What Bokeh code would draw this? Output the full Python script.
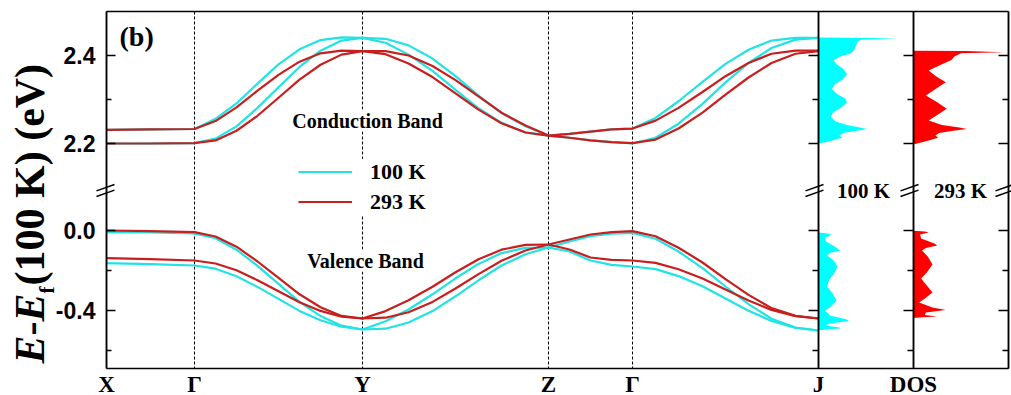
import numpy as np
from bokeh.plotting import figure
from bokeh.models import (Range1d, LinearAxis, FixedTicker, PrintfTickFormatter,
                          Label, Legend, LegendItem, Grid)
from bokeh.embed import file_html
from bokeh.resources import INLINE

# ---------------- data ----------------
# high-symmetry points along the k-path (path length normalised to 1)
k_sym = [0.0, 0.1236, 0.3596, 0.6208, 0.7388, 1.0]
k_labels = ["X", "\u0393", "Y", "Z", "\u0393", "J"]

k = [0.0, 0.0618, 0.1236, 0.1531, 0.1826, 0.2121, 0.2416, 0.2711, 0.3006, 0.3301,
     0.3596, 0.3919, 0.4242, 0.4579, 0.4902, 0.5225, 0.5548, 0.5885, 0.6208, 0.6503,
     0.6798, 0.7093, 0.7388, 0.7711, 0.8034, 0.8371, 0.8694, 0.9017, 0.9340, 0.9677, 1.0]

# conduction bands (eV)
cb_100k_a = [2.231, 2.232, 2.233, 2.256, 2.291, 2.336, 2.380, 2.414, 2.435, 2.441,
             2.440, 2.429, 2.402, 2.365, 2.322, 2.280, 2.247, 2.225, 2.218, 2.213,
             2.207, 2.203, 2.200, 2.213, 2.245, 2.290, 2.339, 2.383, 2.417, 2.436, 2.440]
cb_100k_b = [2.200, 2.200, 2.201, 2.211, 2.239, 2.281, 2.328, 2.374, 2.411, 2.434,
             2.440, 2.438, 2.423, 2.393, 2.353, 2.309, 2.269, 2.239, 2.218, 2.222,
             2.227, 2.232, 2.234, 2.258, 2.296, 2.340, 2.381, 2.413, 2.434, 2.440, 2.440]
cb_293k_a = [2.231, 2.232, 2.233, 2.251, 2.282, 2.320, 2.356, 2.386, 2.405, 2.411,
             2.410, 2.403, 2.382, 2.351, 2.314, 2.277, 2.246, 2.225, 2.218, 2.213,
             2.207, 2.203, 2.201, 2.209, 2.234, 2.270, 2.311, 2.350, 2.383, 2.404, 2.410]
cb_293k_b = [2.200, 2.200, 2.201, 2.207, 2.229, 2.263, 2.304, 2.345, 2.379, 2.402,
             2.410, 2.410, 2.400, 2.376, 2.344, 2.307, 2.270, 2.241, 2.218, 2.222,
             2.227, 2.232, 2.234, 2.252, 2.281, 2.317, 2.353, 2.383, 2.404, 2.411, 2.411]

# valence bands (eV)
vb_100k_a = [-0.008, -0.010, -0.015, -0.039, -0.096, -0.177, -0.267, -0.357, -0.428, -0.476,
             -0.495, -0.454, -0.395, -0.319, -0.239, -0.167, -0.113, -0.087, -0.085, -0.105,
             -0.150, -0.172, -0.180, -0.193, -0.228, -0.279, -0.340, -0.401, -0.452, -0.487, -0.500]
vb_100k_b = [-0.163, -0.168, -0.175, -0.191, -0.229, -0.282, -0.342, -0.402, -0.449, -0.481,
             -0.495, -0.491, -0.460, -0.403, -0.329, -0.249, -0.175, -0.119, -0.085, -0.055,
             -0.028, -0.016, -0.012, -0.041, -0.105, -0.188, -0.280, -0.368, -0.441, -0.485, -0.500]
vb_293k_a = [0.000, -0.003, -0.008, -0.030, -0.081, -0.155, -0.237, -0.319, -0.384, -0.427,
             -0.440, -0.403, -0.349, -0.281, -0.209, -0.144, -0.096, -0.072, -0.070, -0.095,
             -0.135, -0.147, -0.150, -0.162, -0.194, -0.240, -0.295, -0.350, -0.397, -0.428, -0.440]
vb_293k_b = [-0.138, -0.143, -0.150, -0.165, -0.199, -0.249, -0.304, -0.359, -0.402, -0.431,
             -0.440, -0.436, -0.409, -0.357, -0.290, -0.218, -0.151, -0.100, -0.070, -0.045,
             -0.020, -0.008, -0.003, -0.029, -0.086, -0.160, -0.243, -0.322, -0.388, -0.427, -0.440]

# densities of states (arb. units), energies in eV
dos_cb_e_100 = [2.441, 2.440, 2.438, 2.436, 2.432, 2.420, 2.410, 2.404, 2.397, 2.389,
                2.380, 2.370, 2.358, 2.345, 2.334, 2.324, 2.312, 2.302, 2.294, 2.282,
                2.270, 2.260, 2.250, 2.242, 2.236, 2.233, 2.229, 2.224, 2.218, 2.213,
                2.209, 2.204, 2.200]
dos_cb_100 = [0.0, 0.55, 0.83, 0.45, 0.41, 0.39, 0.37, 0.33, 0.22, 0.16,
              0.19, 0.26, 0.30, 0.25, 0.17, 0.14, 0.20, 0.28, 0.30, 0.24,
              0.15, 0.13, 0.18, 0.30, 0.45, 0.51, 0.40, 0.26, 0.22, 0.25,
              0.18, 0.10, 0.0]
dos_cb_e_293 = [2.411, 2.410, 2.4075, 2.405, 2.398, 2.390, 2.380, 2.366, 2.352, 2.339,
                2.325, 2.309, 2.294, 2.279, 2.265, 2.252, 2.242, 2.236, 2.233, 2.229,
                2.224, 2.218, 2.213, 2.208, 2.202, 2.198]
dos_cb_293 = [0.0, 0.55, 0.95, 0.50, 0.43, 0.40, 0.30, 0.16, 0.24, 0.34,
              0.24, 0.13, 0.25, 0.35, 0.25, 0.16, 0.30, 0.50, 0.56, 0.42,
              0.27, 0.23, 0.26, 0.18, 0.08, 0.0]
dos_vb_e_100 = [-0.010, -0.015, -0.022, -0.035, -0.055, -0.080, -0.100, -0.113, -0.125, -0.150,
                -0.180, -0.210, -0.250, -0.280, -0.315, -0.350, -0.380, -0.400, -0.425, -0.445,
                -0.452, -0.465, -0.475, -0.485, -0.490, -0.495, -0.500]
dos_vb_100 = [0.0, 0.10, 0.14, 0.07, 0.08, 0.17, 0.23, 0.12, 0.09, 0.16,
              0.20, 0.17, 0.11, 0.09, 0.15, 0.19, 0.13, 0.07, 0.12, 0.30,
              0.32, 0.12, 0.07, 0.22, 0.23, 0.08, 0.0]
dos_vb_e_293 = [-0.001, -0.005, -0.010, -0.020, -0.040, -0.065, -0.075, -0.088, -0.100, -0.130,
                -0.170, -0.210, -0.240, -0.275, -0.310, -0.340, -0.360, -0.385, -0.397, -0.410,
                -0.422, -0.430, -0.434, -0.437]
dos_vb_293 = [0.0, 0.12, 0.16, 0.07, 0.08, 0.22, 0.25, 0.13, 0.09, 0.15,
              0.20, 0.14, 0.08, 0.14, 0.20, 0.12, 0.06, 0.20, 0.34, 0.13,
              0.12, 0.25, 0.10, 0.0]

upper_ticks, upper_minor = [2.2, 2.4], [2.3]
lower_ticks, lower_minor = [0.0, -0.4], [-0.2, -0.6]

# ---------------- layout (pixels) ----------------
W, H = 1011, 395
FL, FR, FT, FB = 106, 1008, 11, 368      # panel box edges
XJ, XM = 818, 913                        # J line, divider between DOS panels
KPX = XJ - FL                            # px per unit of k-path
DW = XM - XJ                             # px per DOS unit
E_TOP, PPE_UP = 2.5, 440.0               # upper part: energy at top edge, px per eV
E_BOT, PPE_LOW = -0.69, 200.0            # lower part: energy at bottom edge, px per eV
BREAK_Y = 190                            # axis-break marks
BREAK_X = [105, 814, 909, 1004]

CYAN_LINE = "#22E3E3"
RED_LINE = "#C81E1E"
CYAN_FILL = "#00FFFF"
RED_FILL = "#FF0000"
SERIF = "Liberation Serif"
SANS = "Liberation Sans"


def px_x(px):
    return (px - FL) / KPX


def px_y(py):
    return E_TOP - (py - FT) / PPE_UP


up_bottom = px_y(FB)
low_top = E_BOT + (FB - FT) / PPE_LOW
k_right = px_x(FR)

# the frame is the whole canvas; every part is placed through the ranges
p = figure(width=W, height=H, output_backend="svg", toolbar_location=None,
           x_range=Range1d(px_x(0), px_x(W)), y_range=Range1d(px_y(H), px_y(0)),
           x_axis_location=None, y_axis_location=None,
           min_border_left=0, min_border_right=0, min_border_top=0, min_border_bottom=0)
p.extra_y_ranges = {"low": Range1d(E_BOT - (H - FB) / PPE_LOW, E_BOT + FB / PPE_LOW)}
p.extra_x_ranges = {"d100": Range1d(-XJ / DW, (W - XJ) / DW),
                    "d293": Range1d(-XM / DW, (W - XM) / DW)}
p.outline_line_color = None
p.background_fill_color = "white"
p.border_fill_color = "white"
for r in list(p.center):
    if isinstance(r, Grid):
        r.visible = False

# dotted high-symmetry lines
inner = k_sym[1:-1]
p.segment(x0=inner, y0=[E_TOP] * len(inner), x1=inner, y1=[up_bottom] * len(inner),
          line_color="black", line_width=1, line_dash="3 2")

# bands
lw = 2.2
r_cyan = p.line(k, cb_100k_a, line_color=CYAN_LINE, line_width=lw)
p.line(k, cb_100k_b, line_color=CYAN_LINE, line_width=lw)
p.line(k, vb_100k_a, line_color=CYAN_LINE, line_width=lw, y_range_name="low")
p.line(k, vb_100k_b, line_color=CYAN_LINE, line_width=lw, y_range_name="low")
r_red = p.line(k, cb_293k_a, line_color=RED_LINE, line_width=lw)
p.line(k, cb_293k_b, line_color=RED_LINE, line_width=lw)
p.line(k, vb_293k_a, line_color=RED_LINE, line_width=lw, y_range_name="low")
p.line(k, vb_293k_b, line_color=RED_LINE, line_width=lw, y_range_name="low")

# DOS
p.harea(x1=0, x2=dos_cb_100, y=dos_cb_e_100, x_range_name="d100", fill_color=CYAN_FILL)
p.harea(x1=0, x2=dos_vb_100, y=dos_vb_e_100, x_range_name="d100", y_range_name="low",
        fill_color=CYAN_FILL)
p.harea(x1=0, x2=dos_cb_293, y=dos_cb_e_293, x_range_name="d293", fill_color=RED_FILL)
p.harea(x1=0, x2=dos_vb_293, y=dos_vb_e_293, x_range_name="d293", y_range_name="low",
        fill_color=RED_FILL)


# vertical axes (all at fixed locations)
def add_vaxis(xname, xloc, yname, ticks, minor, main):
    bounds = (up_bottom, E_TOP) if yname == "default" else (E_BOT, low_top)
    ax = LinearAxis(x_range_name=xname, y_range_name=yname, fixed_location=xloc,
                    bounds=bounds,
                    ticker=FixedTicker(ticks=ticks, minor_ticks=minor),
                    formatter=PrintfTickFormatter(format="%.1f"),
                    axis_line_color="black", axis_line_width=1.5,
                    major_tick_line_color="black", major_tick_line_width=1.5,
                    minor_tick_line_color="black", minor_tick_line_width=1.5)
    if main:
        ax.major_tick_in, ax.major_tick_out = 9, 0
        ax.minor_tick_in, ax.minor_tick_out = 5, 0
        ax.major_label_standoff = 11
        ax.major_label_text_font = SANS
        ax.major_label_text_font_style = "bold"
        ax.major_label_text_font_size = "23px"
        ax.major_label_text_color = "black"
    else:
        ax.major_tick_in, ax.major_tick_out = 0, 10
        ax.minor_tick_in, ax.minor_tick_out = 0, 6
        ax.major_label_text_font_size = "0px"
        ax.major_label_text_color = None
    p.add_layout(ax, "left")


add_vaxis("default", 0.0, "default", upper_ticks, upper_minor, True)
add_vaxis("default", 0.0, "low", lower_ticks, lower_minor, True)
for xn, xl in (("default", 1.0), ("d293", 0.0), ("d293", 1.0)):
    add_vaxis(xn, xl, "default", upper_ticks, upper_minor, False)
    add_vaxis(xn, xl, "low", lower_ticks, lower_minor, False)

# top edge
top_ax = LinearAxis(fixed_location=E_TOP, bounds=(0.0, k_right),
                    ticker=FixedTicker(ticks=[]), axis_line_color="black",
                    axis_line_width=1.5, major_tick_line_color=None,
                    minor_tick_line_color=None, major_label_text_font_size="0px")
p.add_layout(top_ax, "above")


# bottom edge with k labels, and the DOS label
def add_bottom(xname, ticks, labels, line):
    ax = LinearAxis(x_range_name=xname, fixed_location=up_bottom,
                    ticker=FixedTicker(ticks=ticks),
                    major_label_overrides=dict(zip(ticks, labels)),
                    axis_line_color="black" if line else None, axis_line_width=1.5,
                    major_tick_line_color=None, minor_tick_line_color=None,
                    major_tick_in=0, major_tick_out=0, minor_tick_in=0, minor_tick_out=0,
                    major_label_standoff=3,
                    major_label_text_font=SERIF, major_label_text_font_style="bold",
                    major_label_text_font_size="23px", major_label_text_color="black")
    if line:
        ax.bounds = (0.0, k_right)
    p.add_layout(ax, "below")


add_bottom("default", k_sym, k_labels, True)
add_bottom("d293", [0.0], ["DOS"], False)

# axis-break marks: two short slanted strokes across each vertical edge
bx0, by0, bx1, by1 = [], [], [], []
for cx in BREAK_X:
    for off in (-2.8, 2.8):
        bx0.append(px_x(cx - 9))
        by0.append(px_y(BREAK_Y + off + 3.2))
        bx1.append(px_x(cx + 9))
        by1.append(px_y(BREAK_Y + off - 3.2))
p.segment(x0=bx0, y0=by0, x1=bx1, y1=by1, line_color="black", line_width=1.5)


# texts
def add_text(px, py, text, size, align="center", style="bold", font=SERIF, bg=None,
             angle=0.0, baseline="middle"):
    lab = Label(x=px_x(px), y=px_y(py), text=text, text_font=font,
                text_font_style=style, text_font_size=size, text_align=align,
                text_baseline=baseline, angle=angle, text_color="black")
    if bg:
        lab.background_fill_color = bg
    p.add_layout(lab)


add_text(367, 120, "Conduction Band", "20px", bg="white")
add_text(365, 260, "Valence Band", "20px", bg="white")
add_text(119, 36, "(b)", "28px", align="left")
add_text(863, 190, "100 K", "21px")
add_text(960, 190, "293 K", "21px")

# y-axis title built from pieces (rotated, reading upwards)
S = 42
XT = 29
ypos = 363.0
add_text(XT, ypos, "E", f"{S}px", align="left", style="bold italic", angle=np.pi / 2)
ypos -= 0.667 * S
add_text(XT, ypos, "-", f"{S}px", align="left", angle=np.pi / 2)
ypos -= 0.333 * S
add_text(XT, ypos, "E", f"{S}px", align="left", style="bold italic", angle=np.pi / 2)
ypos -= 0.667 * S
add_text(XT + 17, ypos, "f", "21px", align="left", angle=np.pi / 2)
ypos -= 0.333 * 21 + 1
add_text(XT, ypos, "(100 K) (eV)", f"{S}px", align="left", angle=np.pi / 2)

# legend
legend = Legend(items=[LegendItem(label="100 K", renderers=[r_cyan]),
                       LegendItem(label="293 K", renderers=[r_red])],
                location=(298, H - 214.5),
                glyph_width=54, glyph_height=25, label_height=25, label_standoff=18,
                spacing=4, padding=0, margin=0, border_line_color=None,
                background_fill_color="white", background_fill_alpha=1.0,
                label_text_font=SERIF, label_text_font_style="bold",
                label_text_font_size="22px", label_text_color="black")
p.add_layout(legend)

open("out.html", "w").write(file_html(p, INLINE))
